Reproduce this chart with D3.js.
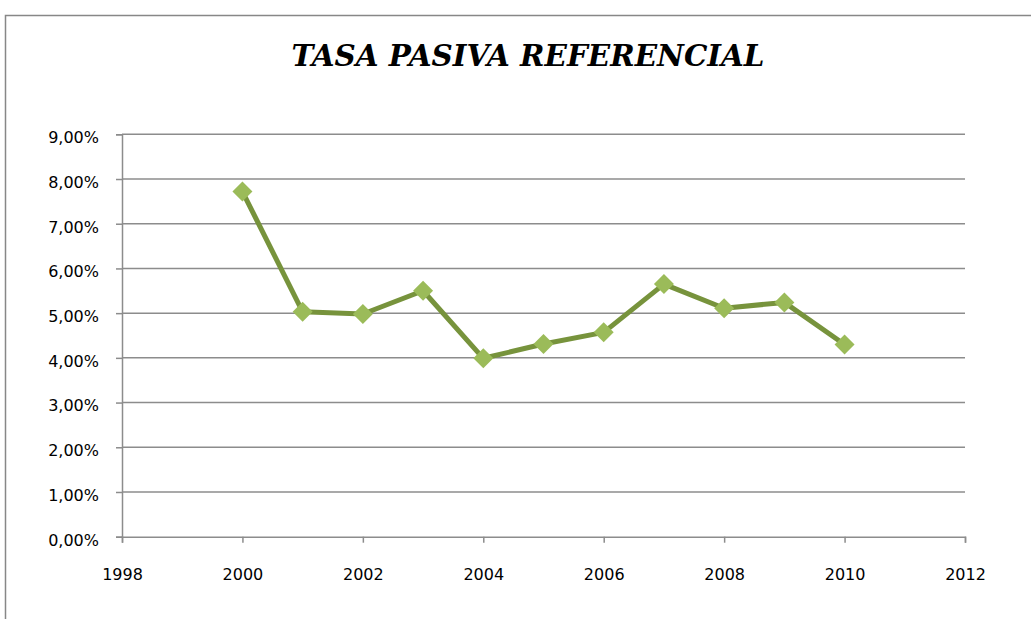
<!DOCTYPE html>
<html>
<head>
<meta charset="utf-8">
<script src="https://cdn.jsdelivr.net/npm/d3@7"></script>
<style>
  body { margin: 0; background: #fff; }
</style>
</head>
<body>
<div id="main"></div>
<script>
var years = [2000, 2001, 2002, 2003, 2004, 2005, 2006, 2007, 2008, 2009, 2010]
var rates = [7.72, 5.03, 4.98, 5.50, 3.99, 4.31, 4.57, 5.65, 5.11, 5.24, 4.30]
var yTicks = [0, 1, 2, 3, 4, 5, 6, 7, 8, 9]
var xTicks = [1998, 2000, 2002, 2004, 2006, 2008, 2010, 2012]
var title = 'TASA PASIVA REFERENCIAL'

var width = 1031
var height = 619
var plot = { left: 122, right: 965, top: 134.3, bottom: 536.7 }

var svg = d3.select('#main')
  .append('svg')
  .attr('width', width)
  .attr('height', height)

// outer chart frame (runs off the bottom/right edge)
svg.append('rect')
  .attr('x', 5.5)
  .attr('y', 15.5)
  .attr('width', 1040)
  .attr('height', 620)
  .attr('fill', '#fff')
  .attr('stroke', '#878787')
  .attr('stroke-width', 1.5)

svg.append('text')
  .text(title)
  .attr('x', 528)
  .attr('y', 66)
  .attr('text-anchor', 'middle')
  .attr('textLength', 473)
  .attr('lengthAdjust', 'spacingAndGlyphs')
  .style('font-family', '"DejaVu Serif", "Liberation Serif", serif')
  .style('font-weight', 'bold')
  .style('font-style', 'italic')
  .style('font-size', '29px')

var x = d3.scaleLinear().domain([1998, 2012]).range([plot.left, plot.right])
var y = d3.scaleLinear().domain([0, 9]).range([plot.bottom, plot.top])

// horizontal gridlines
svg.append('g')
  .selectAll('line')
  .data(yTicks.filter(d => d > 0))
  .enter()
  .append('line')
    .attr('x1', plot.left)
    .attr('x2', plot.right)
    .attr('y1', d => y(d))
    .attr('y2', d => y(d))
    .attr('stroke', '#8c8c8c')
    .attr('stroke-width', 1.5)

var yAxis = svg.append('g')
  .attr('transform', `translate(${plot.left},0)`)
  .call(d3.axisLeft(y).tickValues(yTicks).tickSize(6).tickPadding(17)
    .tickFormat(d => d3.format('.2f')(d).replace('.', ',') + '%'))

var xAxis = svg.append('g')
  .attr('transform', `translate(0,${plot.bottom})`)
  .call(d3.axisBottom(x).tickValues(xTicks).tickSize(6).tickPadding(26)
    .tickFormat(d3.format('d')))

;[yAxis, xAxis].forEach(function (ax) {
  ax.select('.domain').attr('stroke', '#8c8c8c').attr('stroke-width', 1.5)
  ax.selectAll('.tick line').attr('stroke', '#8c8c8c').attr('stroke-width', 1.5)
  ax.selectAll('text')
    .attr('fill', '#000')
    .style('font-family', '"DejaVu Sans", sans-serif')
    .style('font-size', '16px')
})
yAxis.selectAll('text').attr('dy', '0.52em')

var data = years.map((yr, i) => ({ year: yr, value: rates[i] }))

svg.append('path')
  .datum(data)
  .attr('fill', 'none')
  .attr('stroke', '#77933c')
  .attr('stroke-width', 5)
  .attr('stroke-linejoin', 'round')
  .attr('d', d3.line().x(d => x(d.year)).y(d => y(d.value)))

svg.append('g')
  .selectAll('path')
  .data(data)
  .enter()
  .append('path')
    .attr('transform', d => `translate(${x(d.year)},${y(d.value)})`)
    .attr('d', 'M0,-10L10,0L0,10L-10,0Z')
    .attr('fill', '#9bbb59')
</script>
</body>
</html>
